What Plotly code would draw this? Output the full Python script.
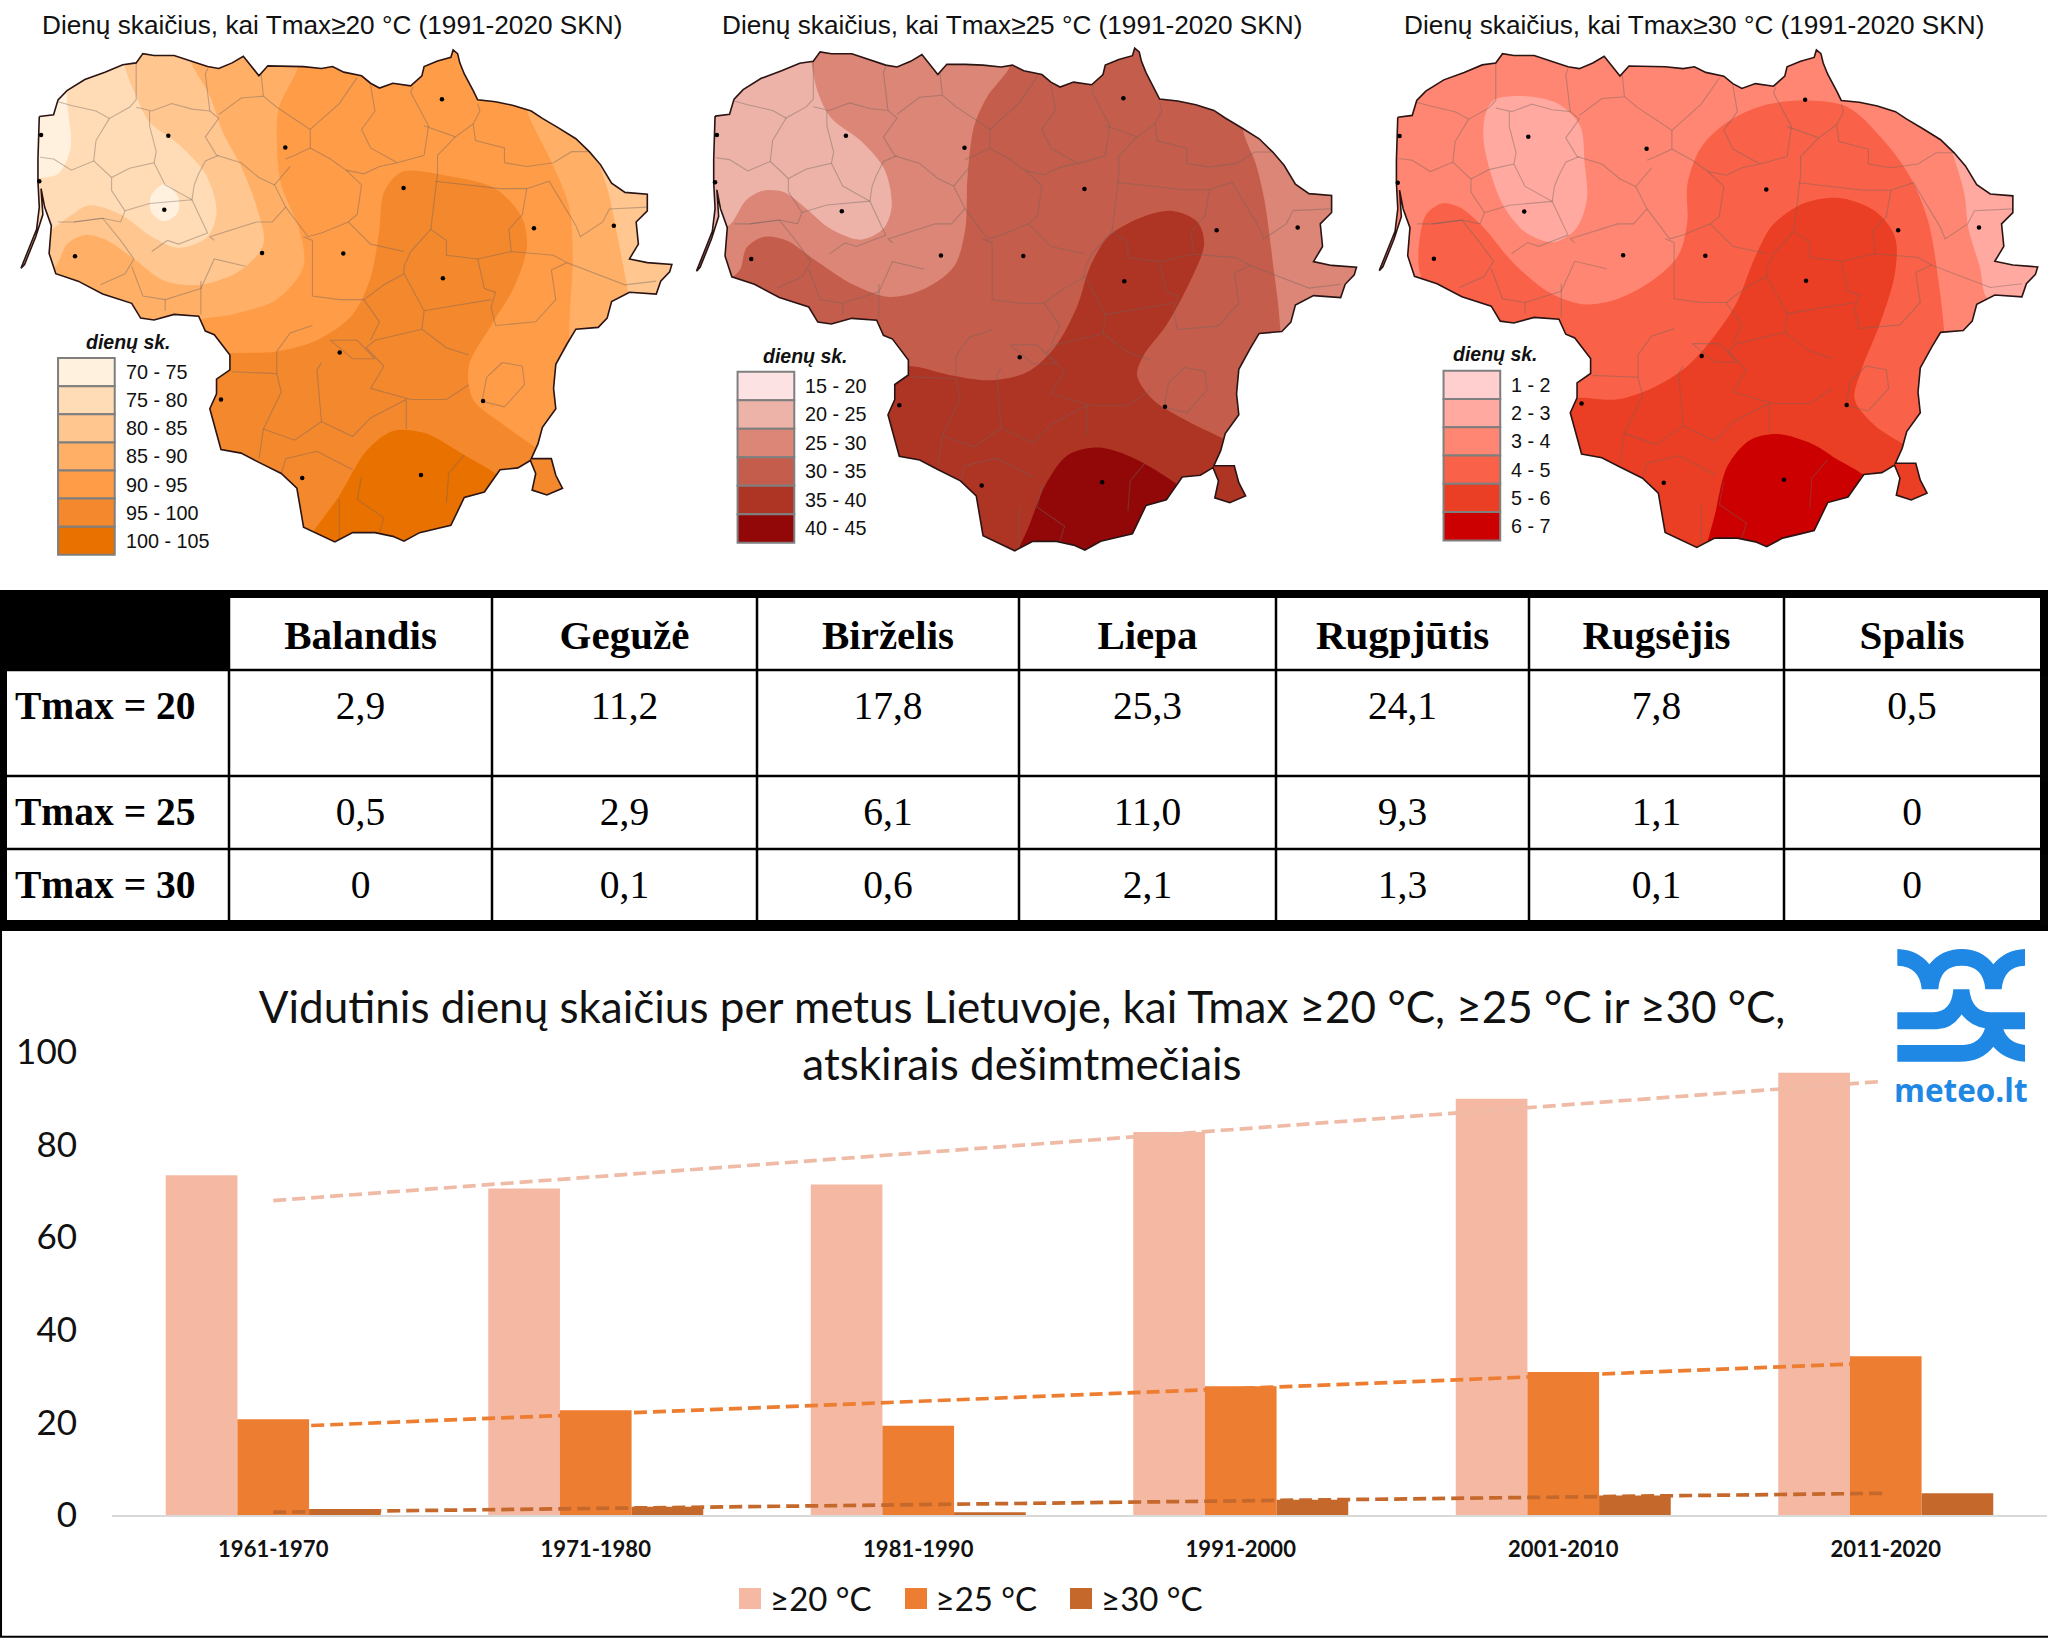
import plotly.graph_objects as go

# Bar chart data
decades = ['1961-1970', '1971-1980', '1981-1990', '1991-2000', '2001-2010', '2011-2020']
days_20 = [73.4, 70.5, 71.4, 82.7, 89.9, 95.5]
days_25 = [20.7, 22.6, 19.3, 27.8, 30.9, 34.3]
days_30 = [1.3, 1.8, 0.6, 3.3, 4.2, 4.7]
trend_ends = [decades[0], decades[-1]]
trend_20 = [67.9, 93.7]
trend_25 = [19.0, 32.9]
trend_30 = [0.6, 4.7]

# Table data
months = ['Balandis', 'Gegužė', 'Birželis', 'Liepa', 'Rugpjūtis', 'Rugsėjis', 'Spalis']
row_names = ['Tmax = 20', 'Tmax = 25', 'Tmax = 30']
row_20 = ['2,9', '11,2', '17,8', '25,3', '24,1', '7,8', '0,5']
row_25 = ['0,5', '2,9', '6,1', '11,0', '9,3', '1,1', '0']
row_30 = ['0', '0,1', '0,6', '2,1', '1,3', '0,1', '0']

# Map geometry
outline = [(88,315),(120,310),(130,270),(150,245),(190,215),(235,195),(275,175),(305,170),(320,145),(345,150),(390,150),
           (430,165),(465,180),(490,185),(520,170),(545,152),(560,175),(580,205),(600,178),(640,178),(680,180),(720,185),
           (745,180),(770,195),(810,205),(830,225),(850,238),(880,225),(920,232),(945,205),(950,180),(980,165),(1010,155),
           (1015,135),(1025,145),(1030,170),(1040,200),(1060,245),(1070,270),(1110,275),(1150,285),(1190,300),(1215,320),
           (1250,345),(1290,375),(1320,410),(1345,445),(1370,495),(1400,520),(1450,525),(1450,570),(1425,600),(1430,660),
           (1410,700),(1450,710),(1505,715),(1500,735),(1480,760),(1470,795),(1410,790),(1370,815),(1360,860),(1340,885),
           (1290,890),(1270,930),(1245,985),(1240,1050),(1245,1105),(1215,1155),(1205,1200),(1190,1240),(1235,1240),
           (1245,1285),(1260,1320),(1225,1338),(1192,1325),(1200,1280),(1188,1245),(1160,1265),(1120,1270),(1085,1330),
           (1040,1345),(1020,1395),(1010,1420),(975,1430),(940,1440),(905,1463),(880,1450),(840,1440),(790,1440),(750,1465),
           (715,1445),(680,1425),(665,1320),(630,1280),(580,1250),(540,1225),(495,1215),(470,1105),(485,1065),(485,1025),
           (515,1000),(515,960),(480,905),(460,895),(445,855),(390,850),(345,865),(315,860),(295,820),(230,795),(175,760),
           (125,740),(110,685),(115,610),(100,560),(92,510),(96,580),(80,640),(55,715),(47,725),(62,680),(82,620),(88,560),
           (85,490),(85,430)]
cities = [(377,367),(639,399),(990,268),(92,365),(904,508),(368,567),(1196,617),(1375,610),(587,684),(769,685),(168,693),
          (992,752),(761,953),(495,1080),(1082,1084),(943,1284),(677,1292),(88,490)]
districts = [
    [(130,275),(160,285),(215,300),(245,320),(290,290),(305,270),(305,170)],
    [(245,320),(215,380),(210,435),(160,460),(120,430),(90,425)],
    [(305,290),(340,300),(385,280),(430,295),(470,300),(460,200),(465,185)],
    [(335,300),(335,340),(350,410),(345,440),(290,455),(250,480)],
    [(210,435),(250,480),(250,515),(280,570),(270,600),(230,590),(165,600),(130,600)],
    [(345,440),(370,500),(430,540),(435,500),(445,470),(460,435),(490,420)],
    [(280,570),(335,550),(430,540),(465,630),(400,660),(375,650),(340,680)],
    [(470,300),(490,320),(460,370),(485,420),(540,440),(580,480),(615,500)],
    [(585,200),(590,260),(540,265),(490,310)],
    [(590,260),(620,290),(695,350),(695,400),(660,420),(640,430)],
    [(695,350),(760,280),(800,210)],
    [(695,400),(740,430),(775,460),(810,500),(800,580),(780,600),(720,630),(690,640),(640,560),(615,500),(650,450)],
    [(830,230),(840,300),(810,350),(830,400),(890,440),(850,450),(815,470),(775,460)],
    [(890,440),(950,420),(960,340),(920,250),(925,235)],
    [(950,340),(1020,370),(1060,335),(1075,300),(1070,280)],
    [(1060,335),(1065,380),(1130,400),(1130,440),(1180,450),(1240,440),(1280,410),(1320,410)],
    [(1020,370),(980,420),(980,470),(975,520),(965,620),(1000,650),(1000,690),(1070,700),(1145,680),(1240,690),(1270,710)],
    [(975,490),(1120,510),(1180,510),(1230,490),(1240,510),(1290,610),(1300,640),(1350,600),(1365,565),(1450,560)],
    [(1145,680),(1140,620),(1170,580),(1180,510)],
    [(965,620),(920,680),(905,720),(905,740),(860,770),(815,810)],
    [(680,640),(700,650),(700,720),(700,800),(760,810),(815,810),(850,870),(830,920)],
    [(780,600),(830,660),(905,680)],
    [(1070,700),(1085,780),(1110,790),(1100,830),(1110,880),(1200,870),(1245,810),(1235,730),(1270,710),(1400,770),(1470,760)],
    [(905,740),(950,840),(1100,810)],
    [(950,840),(945,890),(1000,940),(1050,960)],
    [(945,890),(840,920),(820,940),(860,990),(830,1050),(920,1080),(1000,1080),(1050,1040)],
    [(450,760),(450,850)],
    [(295,720),(320,800),(370,810),(450,780),(480,700),(550,720)],
    [(370,810),(370,840)],
    [(165,600),(230,590),(270,650),(300,700),(280,740),(225,770)],
    [(480,650),(470,640),(575,600),(610,600),(640,560)],
    [(620,950),(650,900),(700,880)],
    [(520,1005),(620,1010),(620,950)],
    [(620,1010),(630,1060),(590,1160),(580,1240)],
    [(720,980),(710,1000),(720,1140),(790,1180),(830,1130),(910,1080),(910,1160)],
    [(590,1160),(660,1190),(720,1140)],
    [(630,1280),(640,1240),(710,1220),(790,1270)],
    [(810,1290),(800,1350),(860,1400),(850,1440)],
    [(1000,1360),(1005,1280),(1040,1230)],
    [(760,1350),(760,1460)],
    [(1125,980),(1170,990),(1175,1040),(1130,1100),(1080,1085),(1090,1020),(1125,980)],
    [(740,920),(800,920),(840,970),(790,970),(760,940),(740,920)],
]

# Colour bands of each map, painted in this order
bands_20 = [
    ('#FFDCB5', [(150,100),(150,270),(158,400),(130,470),(60,495),(20,700),(20,1530),(1522,1530),(1522,100)]),
    ('#FFC68F', [(275,100),(280,180),(305,260),(335,330),(400,390),(460,470),(485,570),(465,640),(400,670),(340,640),(270,580),
                 (200,555),(150,590),(115,620),(60,640),(20,800),(20,1530),(1522,1530),(1522,100)]),
    ('#FFB066', [(420,100),(425,160),(470,260),(500,360),(540,450),(575,560),(590,660),(540,730),(450,770),(370,760),(300,700),
                 (240,650),(190,635),(150,660),(125,720),(80,760),(20,800),(20,1530),(1420,1530),(1420,900),(1410,810),(1385,650),
                 (1365,530),(1340,420),(1340,100)]),
    ('#FF9C47', [(680,100),(665,190),(625,290),(620,390),(630,500),(670,620),(680,720),(620,810),(520,850),(440,870),(400,950),
                 (400,1530),(1275,1530),(1275,890),(1283,700),(1275,560),(1240,450),(1180,300),(1130,100)]),
    ('#F4882D', [(400,960),(520,955),(620,950),(710,920),(790,850),(830,750),(850,620),(860,520),(900,465),(1000,475),(1110,510),
                 (1170,590),(1180,670),(1150,780),(1100,880),(1050,990),(1060,1080),(1130,1150),(1205,1215),(1300,1300),(1300,1530),
                 (400,1530)]),
    ('#E97100', [(650,1530),(700,1440),(760,1340),(820,1220),(880,1165),(950,1170),(1040,1230),(1110,1280),(1180,1350),(1180,1530)]),
    ('#FFF1DE', [(368,498),(398,530),(398,575),(368,598),(340,575),(338,530),(368,498)]),
]
bands_25 = [
    ('#DB8676', [(280,100),(285,165),(300,250),(330,320),(400,385),(450,460),(465,560),(445,620),(395,648),(330,620),(270,560),
                 (225,520),(180,515),(140,540),(105,605),(60,640),(10,750),(10,1530),(1515,1530),(1515,100)]),
    ('#C55D4C', [(740,100),(730,180),(680,260),(650,340),(635,480),(630,620),(605,720),(540,780),(460,803),(380,770),(290,700),
                 (230,650),(180,640),(140,670),(125,730),(80,780),(40,900),(40,1530),(1340,1530),(1335,880),(1320,720),(1300,540),
                 (1280,440),(1255,365),(1210,100)]),
    ('#AE3424', [(400,1000),(510,990),(600,1015),(690,1028),(770,1005),(830,940),(880,830),(910,720),(950,640),(1020,590),(1090,570),
                 (1150,600),(1165,660),(1130,770),(1080,880),(1030,960),(1015,1015),(1050,1080),(1130,1140),(1215,1190),(1300,1250),
                 (1300,1530),(400,1530)]),
    ('#920808', [(730,1530),(770,1430),(810,1310),(860,1230),(930,1210),(1010,1240),(1100,1305),(1180,1380),(1180,1530)]),
]
bands_30 = [
    ('#F96248', [(1335,890),(1325,780),(1300,600),(1260,480),(1200,380),(1120,290),(1030,272),(930,285),(850,330),(790,400),(760,500),
                 (760,600),(740,690),(680,760),(600,810),(530,823),(450,790),(370,710),(300,610),(250,560),(210,550),(175,580),(160,650),
                 (158,720),(165,760),(165,1530),(1340,1530)]),
    ('#EA3F24', [(480,1080),(520,1075),(600,1080),(680,1050),(760,990),(820,910),(870,820),(910,700),(950,610),(1020,550),(1100,535),
                 (1180,570),(1225,640),(1225,740),(1190,880),(1150,1000),(1135,1080),(1180,1150),(1250,1205),(1320,1260),(1320,1530),
                 (480,1530)]),
    ('#CC0000', [(790,1530),(820,1400),(850,1260),(900,1190),(960,1173),(1040,1200),(1100,1245),(1150,1280),(1200,1340),(1200,1530)]),
    ('#FFA9A0', [(330,268),(400,260),(470,280),(520,340),(530,440),(535,540),(510,620),(460,655),(400,630),(350,560),(320,470),(303,370),
                 (310,300),(330,268)]),
    ('#FFA9A0', [(1350,400),(1380,520),(1390,620),(1415,720),(1435,810),(1558,810),(1558,400)]),
]
labels_20 = ['70 - 75', '75 - 80', '80 - 85', '85 - 90', '90 - 95', '95 - 100', '100 - 105']
colors_20 = ['#FFF1DE', '#FFDCB5', '#FFC68F', '#FFB066', '#FF9C47', '#F4882D', '#E97100']
labels_25 = ['15 - 20', '20 - 25', '25 - 30', '30 - 35', '35 - 40', '40 - 45']
colors_25 = ['#FDE2E4', '#EDB3A8', '#DB8676', '#C55D4C', '#AE3424', '#920808']
labels_30 = ['1 - 2', '2 - 3', '3 - 4', '4 - 5', '5 - 6', '6 - 7']
colors_30 = ['#FFCFCF', '#FFA9A0', '#FF8672', '#F96248', '#EA3F24', '#CC0000']

W, H = 2048, 1638
ZX, ZY = 1568 / 700, 1568 / 580  # map units per screen pixel


def px_x(x):
    return x / W


def px_y(y):
    return 1 - y / H


# panel edges sit on whole pixels so the mask leaves no seam at the clip edge
maps = [
    dict(title='Dienų skaičius, kai Tmax≥20 °C (1991-2020 SKN)', left=0, panel=(0, 684), base='#FFF1DE', bands=bands_20,
         fit=(47, 1.0, 135, 1.0), title_x=332, legend=(130, 968, 277, 288, 925), labels=labels_20, colors=colors_20, rows=76),
    dict(title='Dienų skaičius, kai Tmax≥25 °C (1991-2020 SKN)', left=684, panel=(684, 1363), base='#EDB3A8', bands=bands_25,
         fit=(28, 1.014, 130, 1.0218), title_x=1012, legend=(120, 1005, 267, 272, 962), labels=labels_25, colors=colors_25, rows=77),
    dict(title='Dienų skaičius, kai Tmax≥30 °C (1991-2020 SKN)', left=1348, panel=(1363, 2048), base='#FF8672', bands=bands_30,
         fit=(70, 1.0116, 135, 1.0113), title_x=1694, legend=(214, 1002, 360, 330, 958), labels=labels_30, colors=colors_30, rows=76.5),
]
PANEL_Y = (31, 571)

fig = go.Figure()
shapes = []
annotations = []

# Black frame of the table and frame of the chart panel
shapes.append(dict(type='rect', xref='paper', yref='paper', x0=0, x1=1, y0=px_y(930), y1=px_y(590),
                   fillcolor='black', line_width=0, layer='below'))
shapes.append(dict(type='rect', xref='paper', yref='paper', x0=0.0005, x1=1.5, y0=0.0008, y1=px_y(930),
                   fillcolor='white', line=dict(color='black', width=2), layer='below'))

# Maps
for i, m in enumerate(maps):
    n = i + 2
    ax, ay = f'x{n}', f'y{n}'
    x0, sx, y0, sy = m['fit']

    def place(points):
        return [x0 + (p[0] - 47) * sx for p in points], [y0 + (p[1] - 135) * sy for p in points]

    ox, oy = place(outline)
    fig.add_trace(go.Scatter(x=ox + ox[:1], y=oy + oy[:1], mode='lines', fill='toself', fillcolor=m['base'], line_width=0,
                             xaxis=ax, yaxis=ay, showlegend=False, hoverinfo='skip'))
    for color, poly in m['bands']:
        fig.add_trace(go.Scatter(x=[p[0] for p in poly], y=[p[1] for p in poly], mode='lines', fill='toself', fillcolor=color,
                                 line=dict(width=0, shape='spline', smoothing=0.9), xaxis=ax, yaxis=ay,
                                 showlegend=False, hoverinfo='skip'))
    # white mask outside the country, keeps the bands inside the border
    mask_x = [-200, -200, 1800, 1800, -200] + ox + ox[:1] + [-200]
    mask_y = [-200, 1800, 1800, -200, -200] + oy + oy[:1] + [-200]
    fig.add_trace(go.Scatter(x=mask_x, y=mask_y, mode='lines', fill='toself', fillcolor='white', line_width=0,
                             xaxis=ax, yaxis=ay, showlegend=False, hoverinfo='skip'))
    # municipality borders
    dx, dy = [], []
    for d in districts:
        px, py = place(d)
        dx += px + [None]
        dy += py + [None]
    fig.add_trace(go.Scatter(x=dx, y=dy, mode='lines', line=dict(color='rgba(110,100,95,0.42)', width=1.1),
                             xaxis=ax, yaxis=ay, showlegend=False, hoverinfo='skip'))
    fig.add_trace(go.Scatter(x=ox + ox[:1], y=oy + oy[:1], mode='lines', line=dict(color='#2a1414', width=1.6),
                             xaxis=ax, yaxis=ay, showlegend=False, hoverinfo='skip'))
    cx, cy = place(cities)
    fig.add_trace(go.Scatter(x=cx, y=cy, mode='markers', marker=dict(color='black', size=4.5),
                             xaxis=ax, yaxis=ay, showlegend=False, hoverinfo='skip'))

    sw_x, sw_y, lab_x, head_x, head_y = m['legend']
    for k, (lab, col) in enumerate(zip(m['labels'], m['colors'])):
        shapes.append(dict(type='rect', xref=ax, yref=ay, x0=sw_x, x1=sw_x + 127, y0=sw_y + k * m['rows'], y1=sw_y + (k + 1) * m['rows'],
                           fillcolor=col, line=dict(color='#7f7f7f', width=2), layer='above'))
        annotations.append(dict(text=lab, xref=ax, yref=ay, x=lab_x, y=sw_y + (k + 0.5) * m['rows'], xanchor='left', yanchor='middle',
                                showarrow=False, font=dict(family='Liberation Sans', size=19.8, color='#111111')))
    annotations.append(dict(text='<b><i>dienų sk.</i></b>', xref=ax, yref=ay, x=head_x, y=head_y, xanchor='center', yanchor='middle',
                            showarrow=False, font=dict(family='Liberation Sans', size=19.5, color='#111111')))
    annotations.append(dict(text=m['title'], xref='paper', yref='paper', x=px_x(m['title_x']), y=px_y(25), xanchor='center', yanchor='middle',
                            showarrow=False, font=dict(family='Liberation Sans', size=26.2, color='#111111')))

    a, b = m['panel']
    common = dict(visible=False, fixedrange=True)
    fig.update_layout({
        f'xaxis{n}': dict(range=[(a - m['left']) * ZX, (b - m['left']) * ZX], domain=[px_x(a), px_x(b)], anchor=ay, **common),
        f'yaxis{n}': dict(range=[PANEL_Y[1] * ZY, PANEL_Y[0] * ZY], domain=[px_y(PANEL_Y[1]), px_y(PANEL_Y[0])], anchor=ax, **common),
    })

# Table grid: plotly puts table text high in the cell, so the grid is drawn under
# a see-through table that sits a few pixels lower
col_edges = [7, 229, 492, 757, 1019, 1276, 1529, 1784, 2040]
row_edges = [598, 670, 776, 849, 920]
TEXT_DROP = 6
shapes.append(dict(type='rect', xref='paper', yref='paper', x0=px_x(col_edges[0]), x1=px_x(col_edges[-1]), y0=px_y(row_edges[-1]), y1=px_y(row_edges[0]),
                   fillcolor='white', line_width=0, layer='below'))
shapes.append(dict(type='rect', xref='paper', yref='paper', x0=px_x(col_edges[0]), x1=px_x(col_edges[1]), y0=px_y(row_edges[1]), y1=px_y(row_edges[0]),
                   fillcolor='black', line_width=0, layer='below'))
for ce in col_edges[1:-1]:
    shapes.append(dict(type='line', xref='paper', yref='paper', x0=px_x(ce), x1=px_x(ce), y0=px_y(row_edges[-1]), y1=px_y(row_edges[0]),
                       line=dict(color='black', width=2.5), layer='below'))
for re_ in row_edges[1:-1]:
    shapes.append(dict(type='line', xref='paper', yref='paper', x0=px_x(col_edges[0]), x1=px_x(col_edges[-1]), y0=px_y(re_), y1=px_y(re_),
                       line=dict(color='black', width=2.5), layer='below'))

column_widths = [b - a for a, b in zip(col_edges, col_edges[1:])]
column_align = ['left'] + ['center'] * 7
no_line = dict(color='rgba(0,0,0,0)', width=0)
no_fill = 'rgba(0,0,0,0)'
value_font = dict(family='Liberation Serif', size=39.5, color='black')


def table_row(name, values):
    # the span makes plotly set plain values on the same baseline as the bold names
    return [f'<b>{name}</b>'] + [f'<span>{v}</span>' for v in values]


# two tables, so the first value row can be taller than the others
fig.add_trace(go.Table(
    domain=dict(x=[px_x(col_edges[0]), px_x(col_edges[-1])], y=[px_y(row_edges[2] + TEXT_DROP), px_y(row_edges[0] + TEXT_DROP)]),
    columnwidth=column_widths,
    header=dict(values=[''] + [f'<b>{month}</b>' for month in months], height=row_edges[1] - row_edges[0], align='center',
                fill_color=no_fill, line=no_line, font=dict(family='Liberation Serif', size=41, color='black')),
    cells=dict(values=[[c] for c in table_row(row_names[0], row_20)], height=row_edges[2] - row_edges[1], align=column_align,
               fill_color=no_fill, line=no_line, font=value_font),
))
fig.add_trace(go.Table(
    domain=dict(x=[px_x(col_edges[0]), px_x(col_edges[-1])], y=[px_y(row_edges[4] + TEXT_DROP), px_y(row_edges[2] + TEXT_DROP)]),
    columnwidth=column_widths,
    header=dict(values=table_row(row_names[1], row_25), height=row_edges[3] - row_edges[2], align=column_align,
                fill_color=no_fill, line=no_line, font=value_font),
    cells=dict(values=[[c] for c in table_row(row_names[2], row_30)], height=row_edges[4] - row_edges[3], align=column_align,
               fill_color=no_fill, line=no_line, font=value_font),
))

# Bars
bar_series = [('≥20 °C', days_20, '#F4B8A3'), ('≥25 °C', days_25, '#ED7D31'), ('≥30 °C', days_30, '#C5682B')]
for name, values, color in bar_series:
    fig.add_trace(go.Bar(x=decades, y=values, name=name, marker=dict(color=color, line_width=0), hoverinfo='x+y'))
for values, color in [(trend_20, '#EFBBA6'), (trend_25, '#ED7D31'), (trend_30, '#C5682B')]:
    fig.add_trace(go.Scatter(x=trend_ends, y=values, mode='lines', line=dict(color=color, width=3.7, dash='13px,6px'),
                             showlegend=False, hoverinfo='skip'))

# Legend keys are larger in the reference than plotly draws them
for (name, values, color), left in zip(bar_series, (739, 905, 1070)):
    shapes.append(dict(type='rect', xref='paper', yref='paper', x0=px_x(left), x1=px_x(left + 22), y0=px_y(1609), y1=px_y(1588),
                       fillcolor=color, line_width=0, layer='above'))

# Logo
logo_top = 'M52,42 Q115,45 148,88 Q185,42 245,42 Q305,42 340,88 Q375,45 435,42 L435,92 Q370,95 365,163 L316,163 Q310,92 245,92 Q180,92 175,163 L125,163 Q120,95 52,92 Z'
logo_low = ('M52,232 L160,232 Q215,230 220,163 L268,163 Q275,230 330,232 L435,232 L435,283 L370,283 Q385,325 435,330 L435,380 '
            'Q375,375 340,335 Q305,380 240,380 L52,380 L52,330 L250,330 Q300,328 315,280 Q270,272 245,238 Q215,283 170,283 L52,283 Z')
for path in (logo_top, logo_low):
    shapes.append(dict(type='path', path=path, xref='x5', yref='y5', fillcolor='#1F88E5', line_width=0))
annotations.append(dict(text='<b>meteo.lt</b>', xref='paper', yref='paper', x=px_x(1961), y=px_y(1089), xanchor='center', yanchor='middle',
                        showarrow=False, font=dict(family='Open Sans', size=31.5, color='#1F88E5')))

fig.update_layout(
    width=W, height=H,
    margin=dict(l=0, r=0, t=0, b=0, pad=0, autoexpand=False),
    paper_bgcolor='white', plot_bgcolor='white',
    barmode='group', bargap=1 / 3, bargroupgap=0,
    font=dict(family='Lato', color='#111111'),
    title=dict(text='Vidutinis dienų skaičius per metus Lietuvoje, kai Tmax ≥20 °C, ≥25 °C ir ≥30 °C,<br>atskirais dešimtmečiais',
               x=px_x(1022), xanchor='center', y=px_y(1023), yanchor='middle', font=dict(family='Lato', size=44, color='#111111')),
    xaxis=dict(domain=[px_x(112), px_x(2047)], anchor='y', type='category', range=[-0.5, 5.5], showgrid=False, showline=True,
               linecolor='#d9d9d9', linewidth=2, ticks='', ticklabelstandoff=14, fixedrange=True,
               tickfont=dict(family='Lato', size=22, weight='bold', color='#111111')),
    yaxis=dict(domain=[px_y(1515), px_y(1052)], anchor='x', range=[0, 100], tickvals=[0, 20, 40, 60, 80, 100], showgrid=False,
               showline=False, ticks='', zeroline=False, ticklabelstandoff=34, fixedrange=True,
               tickfont=dict(family='Lato', size=35, color='#111111')),
    xaxis5=dict(range=[0, 480], domain=[px_x(1880), px_x(2040)], anchor='y5', visible=False, fixedrange=True),
    yaxis5=dict(range=[540, 0], domain=[px_y(1115), px_y(935)], anchor='x5', visible=False, fixedrange=True),
    legend=dict(orientation='h', x=px_x(730), xanchor='left', y=px_y(1598), yanchor='middle', entrywidth=120.5, entrywidthmode='pixels',
                font=dict(family='Lato', size=33, color='#111111'), bgcolor='rgba(0,0,0,0)'),
    shapes=shapes,
    annotations=annotations,
)

fig.write_html("out.html", post_script="document.body.style.margin='0';", config=dict(displayModeBar=False))
